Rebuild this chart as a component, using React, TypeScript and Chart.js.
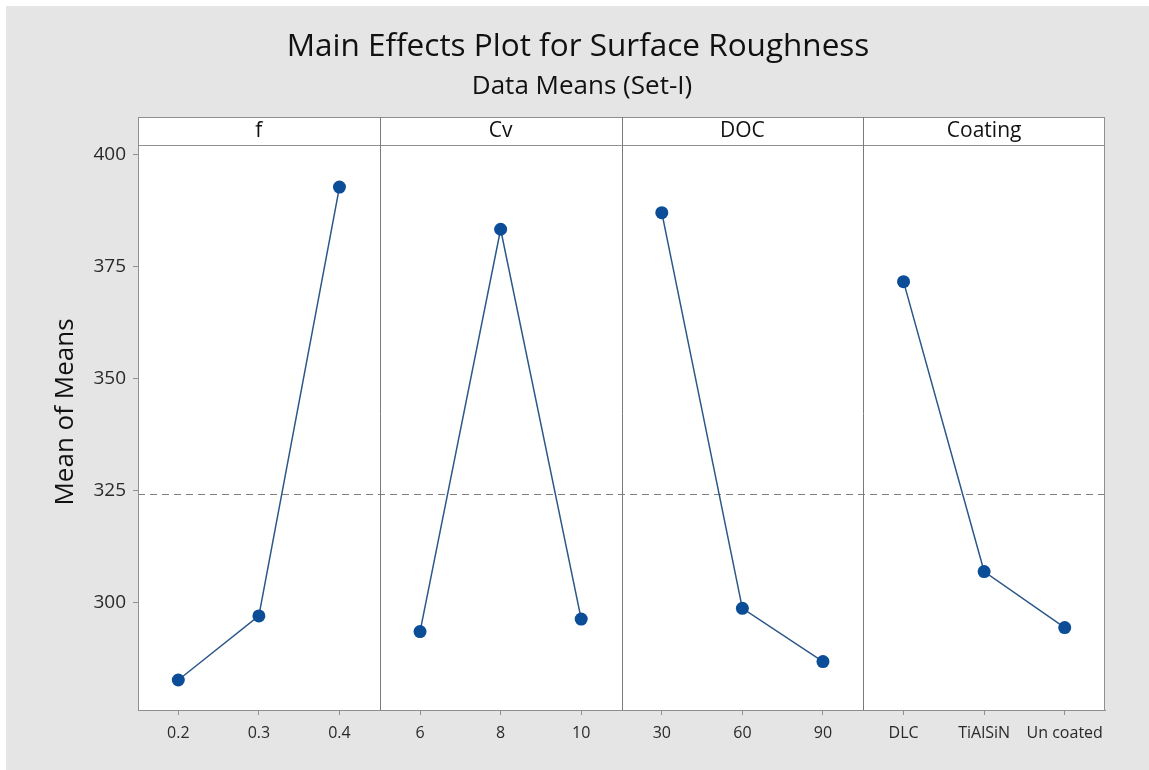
import React, { useEffect, useRef } from "react";
import { Chart, registerables } from "chart.js";

Chart.register(...registerables);

// ---- Data ----
const titleText = "Main Effects Plot for Surface Roughness";
const subtitleText = "Data Means (Set-I)";
const yAxisTitle = "Mean of Means";
const factorNames = ["f", "Cv", "DOC", "Coating"];
const fLevels = ["0.2", "0.3", "0.4"];
const cvLevels = ["6", "8", "10"];
const docLevels = ["30", "60", "90"];
const coatingLevels = ["DLC", "TiAlSiN", "Un coated"];
const fMeans = [282.8, 297.1, 392.8];
const cvMeans = [293.6, 383.4, 296.4];
const docMeans = [387.1, 298.8, 286.9];
const coatingMeans = [371.7, 307.0, 294.5];
const overallMean = 324.4;
const yTicks = [300, 325, 350, 375, 400];
const yMin = 276.1;
const yMax = 402.2;

const FONT = "'Open Sans', 'Noto Sans', sans-serif";
const W = 1149;
const H = 770;

const levelGroups = [fLevels, cvLevels, docLevels, coatingLevels];
const meanGroups = [fMeans, cvMeans, docMeans, coatingMeans];
const allLabels = levelGroups.flat();

function buildDatasets() {
  return meanGroups.map((means, p) => {
    const data: (number | null)[] = allLabels.map(() => null);
    means.forEach((v, i) => {
      data[p * 3 + i] = v;
    });
    return {
      label: factorNames[p],
      data,
      spanGaps: false,
      borderColor: "#2b5888",
      borderWidth: 1.5,
      pointRadius: 6.5,
      pointHoverRadius: 6.5,
      pointBackgroundColor: "#0b4d96",
      pointBorderColor: "#0b4d96",
      pointBorderWidth: 0,
      tension: 0,
    };
  });
}

const framePlugin = {
  id: "minitabFrame",
  beforeDraw(chart: any) {
    const { ctx, chartArea } = chart;
    const { left, right, top, bottom } = chartArea;
    ctx.save();
    ctx.fillStyle = "#ffffff";
    ctx.fillRect(0, 0, W, H);
    ctx.fillStyle = "#e5e5e5";
    ctx.fillRect(6, 6, W - 6, H - 6);
    const stripTop = top - 28;
    ctx.fillStyle = "#ffffff";
    ctx.fillRect(left, stripTop, right - left, bottom - stripTop);

    ctx.fillStyle = "#111111";
    ctx.textAlign = "center";
    ctx.textBaseline = "middle";
    ctx.font = `31.5px ${FONT}`;
    ctx.fillText(titleText, 578, 47);
    ctx.font = `26px ${FONT}`;
    ctx.fillText(subtitleText, 582, 87);

    // y-axis title
    ctx.save();
    ctx.translate(66, 412);
    ctx.rotate(-Math.PI / 2);
    ctx.font = `26px ${FONT}`;
    ctx.fillText(yAxisTitle, 0, 0);
    ctx.restore();
    ctx.restore();
  },
  beforeDatasetsDraw(chart: any) {
    const { ctx, chartArea, scales } = chart;
    const { left, right, top, bottom } = chartArea;
    const x = scales.x;
    const y = scales.y;
    const stripTop = top - 28;
    ctx.save();
    const ym = Math.round(y.getPixelForValue(overallMean)) + 0.5;
    ctx.strokeStyle = "#808080";
    ctx.lineWidth = 1;
    ctx.setLineDash([7, 5]);
    ctx.beginPath();
    ctx.moveTo(left, ym);
    ctx.lineTo(right, ym);
    ctx.stroke();
    ctx.setLineDash([]);

    ctx.strokeStyle = "#8f8f8f";
    ctx.lineWidth = 1;
    ctx.strokeRect(left + 0.5, stripTop + 0.5, right - left - 1, bottom - stripTop);
    ctx.beginPath();
    ctx.moveTo(left, top + 0.5);
    ctx.lineTo(right, top + 0.5);
    ctx.stroke();

    const bounds: number[] = [left];
    for (let p = 1; p < factorNames.length; p++) {
      const a = x.getPixelForValue(p * 3 - 1);
      const b = x.getPixelForValue(p * 3);
      bounds.push((a + b) / 2);
    }
    bounds.push(right);
    ctx.strokeStyle = "#7a7a7a";
    for (let p = 1; p < factorNames.length; p++) {
      const bx = Math.round(bounds[p]) + 0.5;
      ctx.beginPath();
      ctx.moveTo(bx, stripTop);
      ctx.lineTo(bx, bottom);
      ctx.stroke();
    }
    ctx.fillStyle = "#111111";
    ctx.font = `21px ${FONT}`;
    ctx.textAlign = "center";
    ctx.textBaseline = "middle";
    factorNames.forEach((name, p) => {
      ctx.fillText(name, (bounds[p] + bounds[p + 1]) / 2, stripTop + 14);
    });
    ctx.restore();
  },
};

export default function App() {
  const ref = useRef<HTMLCanvasElement | null>(null);
  useEffect(() => {
    document.body.style.margin = "0";
    if (!ref.current) return;
    const chart = new Chart(ref.current, {
      type: "line",
      data: { labels: allLabels, datasets: buildDatasets() as any },
      options: {
        animation: false,
        responsive: false,
        devicePixelRatio: 1,
        layout: { padding: { left: 0, right: 44, top: 145, bottom: 0 } },
        plugins: {
          legend: { display: false },
          title: { display: false },
          tooltip: { enabled: false },
        },
        scales: {
          x: {
            type: "category",
            offset: true,
            grid: {
              drawOnChartArea: false,
              drawTicks: true,
              tickLength: 5,
              color: "#8f8f8f",
              offset: false,
            },
            border: { display: true, color: "#8f8f8f" },
            ticks: {
              color: "#2a2a2a",
              font: { family: FONT, size: 16 },
              padding: 9,
              maxRotation: 0,
              autoSkip: false,
            },
            afterFit: (s: any) => {
              s.height = 60;
            },
          },
          y: {
            min: yMin,
            max: yMax,
            afterBuildTicks: (s: any) => {
              s.ticks = yTicks.map((v) => ({ value: v }));
            },
            grid: {
              drawOnChartArea: false,
              drawTicks: true,
              tickLength: 5,
              color: "#8f8f8f",
            },
            border: { display: true, color: "#8f8f8f" },
            ticks: {
              color: "#2a2a2a",
              font: { family: FONT, size: 19 },
              padding: 7,
            },
            title: { display: false },
            afterFit: (s: any) => {
              s.width = 138;
            },
          },
        },
      },
      plugins: [framePlugin],
    });
    return () => chart.destroy();
  }, []);
  return <canvas ref={ref} width={W} height={H} style={{ display: "block" }} />;
}
